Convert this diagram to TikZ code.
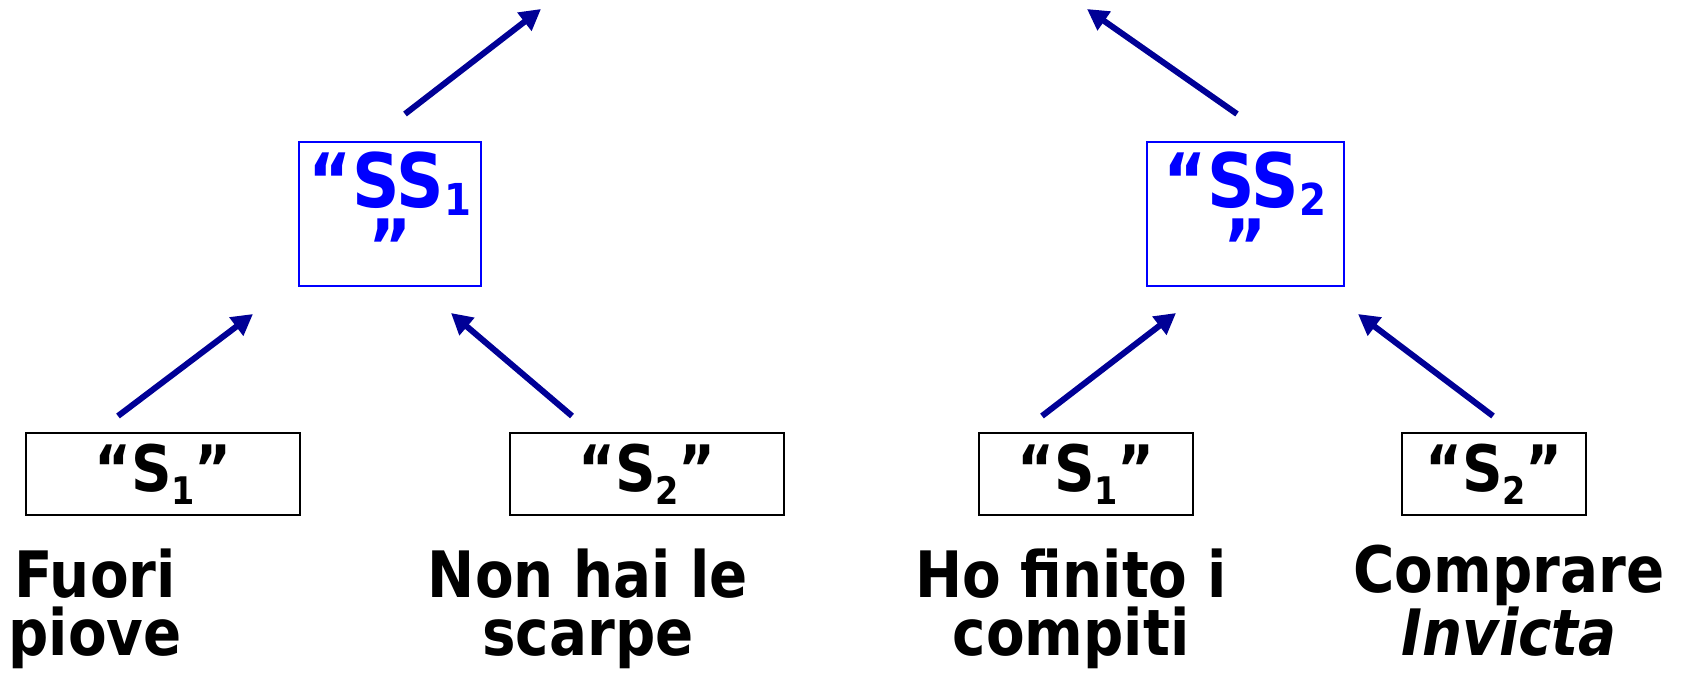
\documentclass[tikz,border=0pt]{standalone}
\usepackage{fontspec}
\setmainfont[FakeStretch=0.88]{DejaVu Sans}
\usepackage{xcolor}
\usepackage{tikz}
\usetikzlibrary{arrows.meta,calc}
\definecolor{ssblue}{RGB}{0,0,255}
\definecolor{arrblue}{RGB}{0,0,150}
\newcommand{\sidx}[1]{\raisebox{-13pt}{\fontsize{38}{38}\selectfont#1}}
\newcommand{\ssidx}[1]{\raisebox{-8pt}{\fontsize{44}{44}\selectfont#1}}

\begin{document}
\begin{tikzpicture}[
  x=1pt, y=-1pt,
  sbox/.style={draw, line width=2pt, inner sep=0pt, minimum height=82pt, font=\fontsize{64}{64}\selectfont\bfseries},
  ssbox/.style={draw=ssblue, text=ssblue, line width=2pt, inner sep=0pt, font=\fontsize{75}{66}\selectfont\bfseries},
  lbl/.style={align=center, inner sep=0pt, anchor=base, font=\fontsize{64}{58}\selectfont\bfseries},
  arr/.style={draw=arrblue, line width=6pt, -{Triangle[length=21pt, width=22pt]}},
]
\useasboundingbox (0,0) rectangle (1685,674);

\node[sbox, minimum width=274pt] (s1a) at (163,474) {“S\sidx{1}”};
\node[sbox, minimum width=274pt] (s2a) at (647,474) {“S\sidx{2}”};
\node[sbox, minimum width=214pt] (s1b) at (1086,474) {“S\sidx{1}”};
\node[sbox, minimum width=184pt] (s2b) at (1494,474) {“S\sidx{2}”};

\node[ssbox] (ss1) at (390,214) {\parbox[c][144pt][t]{182pt}{\centering\vspace*{10pt}“SS\ssidx{1}\\”}};
\node[ssbox] (ss2) at (1245,214) {\parbox[c][144pt][t]{197pt}{\centering\vspace*{10pt}“SS\ssidx{2}\\”}};

\node[lbl] (t1) at (95,655) {Fuori\\piove};
\node[lbl] (t2) at (588,655) {Non hai le\\scarpe};
\node[lbl] (t3) at (1071,655) {Ho finito i\\compiti};
\node[lbl] (t4) at (1509,655) {Comprare\\\textit{Invicta}};

\coordinate (s1a out) at ($(s1a.north)+(-45,-16)$);
\coordinate (s2a out) at ($(s2a.north)+(-75,-16)$);
\coordinate (s1b out) at ($(s1b.north)+(-44,-16)$);
\coordinate (s2b out) at ($(s2b.north)+(-1,-16)$);
\coordinate (ss1 in1) at ($(ss1.south)+(-137,27)$);
\coordinate (ss1 in2) at ($(ss1.south)+(61,26)$);
\coordinate (ss2 in1) at ($(ss2.south)+(-69,26)$);
\coordinate (ss2 in2) at ($(ss2.south)+(113,27)$);
\coordinate (ss1 out) at ($(ss1.north)+(15,-27)$);
\coordinate (ss2 out) at ($(ss2.north)+(-8,-27)$);
\coordinate (ss1 up) at ($(ss1.north)+(151,-132)$);
\coordinate (ss2 up) at ($(ss2.north)+(-158,-132)$);

\draw[arr] (s1a out) -- (ss1 in1);
\draw[arr] (s2a out) -- (ss1 in2);
\draw[arr] (s1b out) -- (ss2 in1);
\draw[arr] (s2b out) -- (ss2 in2);
\draw[arr] (ss1 out) -- (ss1 up);
\draw[arr] (ss2 out) -- (ss2 up);
\end{tikzpicture}
\end{document}
